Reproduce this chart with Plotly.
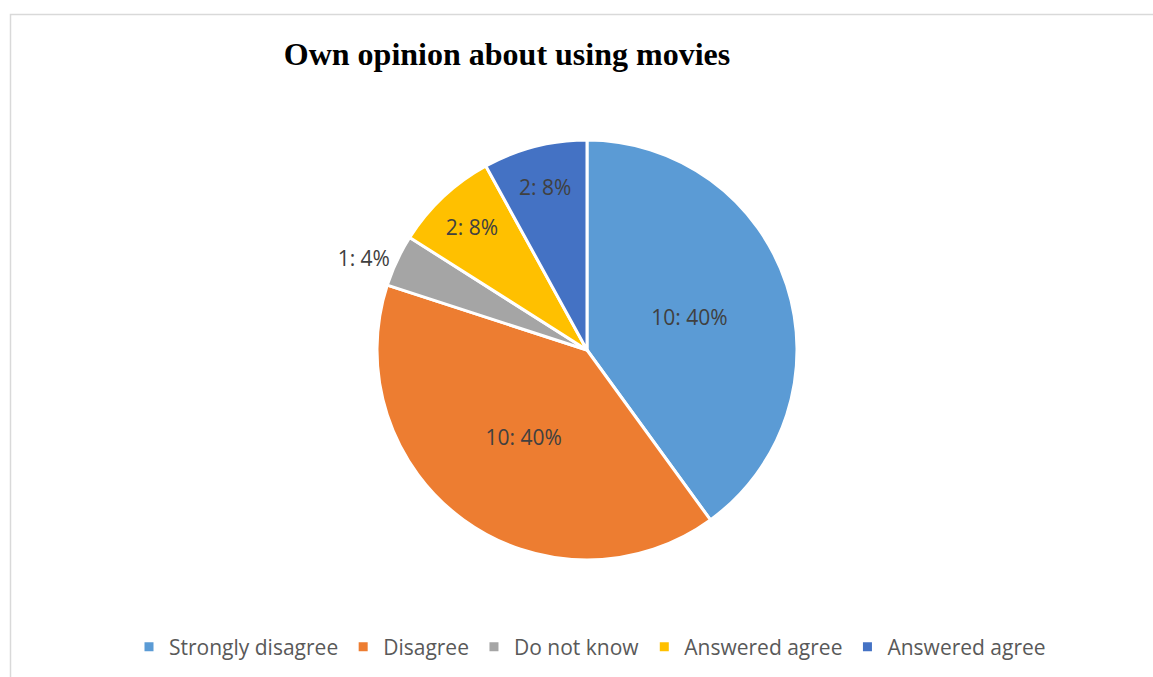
import plotly.graph_objects as go

# Survey answers: category names, counts and slice colours
labels = ["Strongly disagree", "Disagree", "Do not know", "Answered agree", "Answered agree\u00a0"]
counts = [10, 10, 1, 2, 2]
colors = ["#5B9BD5", "#ED7D31", "#A5A5A5", "#FFC000", "#4472C4"]
text_positions = ["inside", "inside", "outside", "inside", "inside"]

W, H = 1153, 677
cx, cy, r = 587, 350, 210
label_font = dict(family="Open Sans", size=21, color="#404040")

fig = go.Figure(
    go.Pie(
        labels=labels,
        values=counts,
        sort=False,
        direction="clockwise",
        rotation=0,
        marker=dict(colors=colors, line=dict(color="white", width=3)),
        texttemplate="%{value}: %{percent:.0%}",
        textposition=text_positions,
        insidetextorientation="horizontal",
        textfont=label_font,
        outsidetextfont=label_font,
        insidetextfont=label_font,
        hoverinfo="label+value+percent",
        domain=dict(
            x=[(cx - r) / W, (cx + r) / W],
            y=[1 - (cy + r) / H, 1 - (cy - r) / H],
        ),
    )
)

fig.update_layout(
    width=W,
    height=H,
    margin=dict(l=0, r=0, t=0, b=0),
    paper_bgcolor="white",
    plot_bgcolor="white",
    uniformtext=dict(minsize=21, mode="show"),
    title=dict(
        text="<b>Own opinion about using movies</b>",
        x=507 / W,
        xanchor="center",
        y=1 - 54 / H,
        yanchor="middle",
        font=dict(family="Liberation Serif", size=32, color="#000000"),
    ),
    legend=dict(
        orientation="h",
        x=593 / W,
        xanchor="center",
        y=1 - 647 / H,
        yanchor="middle",
        font=dict(family="Open Sans", size=21, color="#595959"),
        traceorder="normal",
    ),
    shapes=[
        dict(
            type="rect",
            xref="paper",
            yref="paper",
            x0=10.5 / W,
            x1=1.2,
            y0=-0.2,
            y1=1 - 14.5 / H,
            line=dict(color="#D9D9D9", width=1.5),
            fillcolor="rgba(0,0,0,0)",
            layer="below",
        )
    ],
)

fig.write_html("out.html")
